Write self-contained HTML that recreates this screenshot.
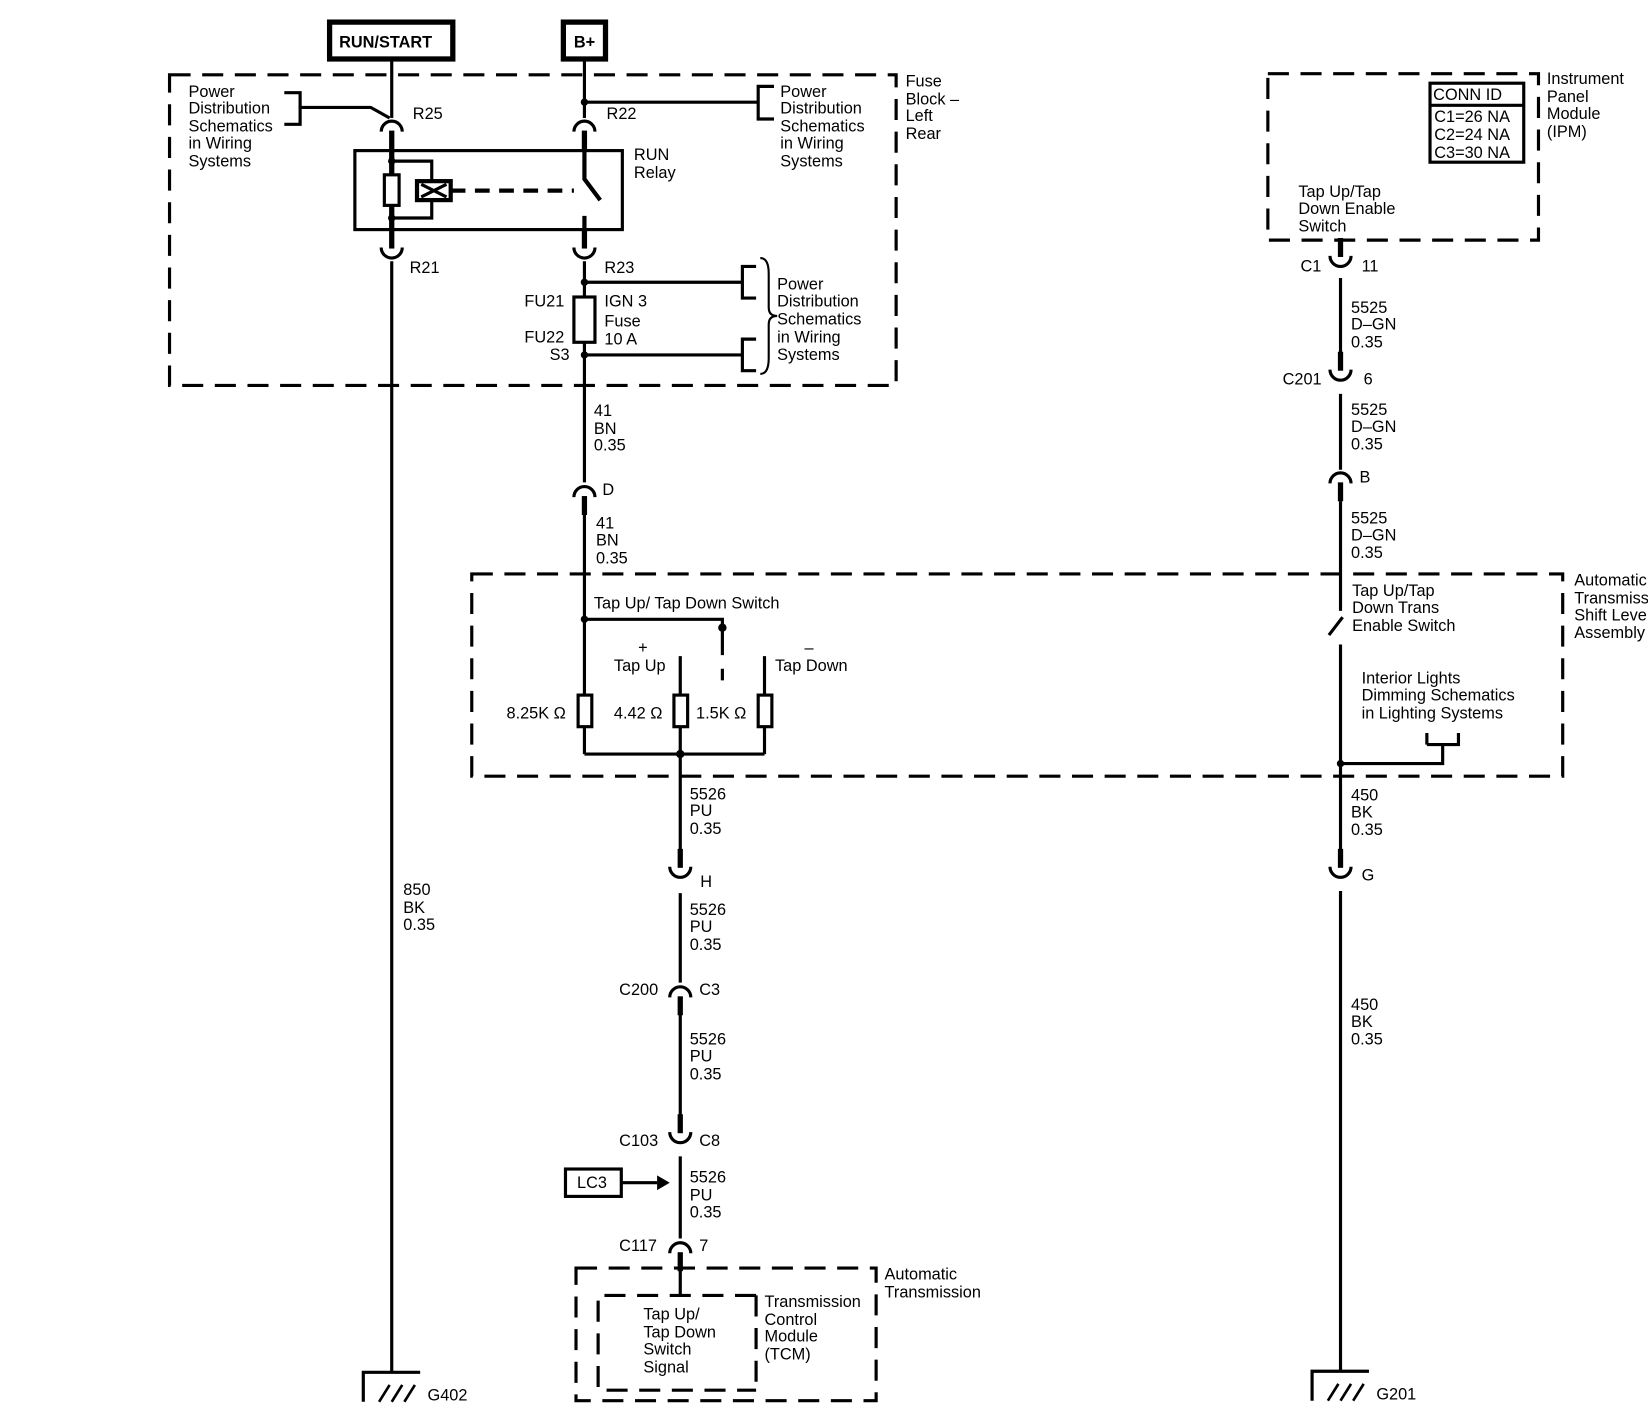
<!DOCTYPE html>
<html><head><meta charset="utf-8"><style>html,body{margin:0;padding:0;background:#fff}svg{display:block}text{font-family:"Liberation Sans",sans-serif;font-size:15.5px;fill:#000}</style></head>
<body>
<svg width="1648" height="1426" viewBox="0 0 1565 1354" preserveAspectRatio="none" xmlns="http://www.w3.org/2000/svg">
<defs>
<g id="cdn"><path d="M-10 7 A10 10 0 0 1 10 7" fill="none" stroke="#000" stroke-width="3"/><rect x="-2.5" y="6" width="5" height="18" fill="#000"/></g>
<g id="cup"><path d="M-10 -7 A10 10 0 0 0 10 -7" fill="none" stroke="#000" stroke-width="3"/><rect x="-2.5" y="-24" width="5" height="18" fill="#000"/></g>
<g id="gnd"><path d="M-27 28 V0 H27" fill="none" stroke="#000" stroke-width="3"/><path d="M-12 28 L-2 12 M0 28 L10 12 M12 28 L22 12" stroke="#000" stroke-width="2.5"/></g>
</defs>
<g fill="none" stroke="#000" stroke-width="3">
<!-- dashed boxes -->
<g stroke-dasharray="20 11">
<rect x="161" y="71" width="690" height="295"/>
<rect x="1204" y="70" width="257" height="158"/>
<rect x="448" y="545" width="1036" height="192"/>
<rect x="547" y="1204" width="285" height="126"/>
<path d="M718 1230 H568 V1320 H718 M718 1230 V1320"/>
</g>
<rect x="313" y="21" width="117" height="35" stroke-width="5"/>
<rect x="535" y="21" width="40" height="35" stroke-width="5"/>
<rect x="1358" y="79" width="89" height="75" stroke-width="3"/>
<line x1="1358" y1="100" x2="1447" y2="100"/>
<!-- left wire -->
<line x1="372" y1="58" x2="372" y2="112"/>
<path d="M285 102 H352 L370 112"/>
<path d="M270 88 H285 V118 H270"/>
<rect x="337" y="143" width="254" height="75"/>
<line x1="372" y1="142" x2="372" y2="218" stroke-width="5"/>
<rect x="365" y="166" width="14" height="29" fill="#fff"/>
<path d="M372 153 H410 V172 M372 207 H410 V190"/>
<rect x="396" y="172" width="32" height="18" stroke-width="4"/>
<path d="M400 175 L424 187 M400 187 L424 175" stroke-width="3"/>
<line x1="428" y1="181" x2="545" y2="181" stroke-dasharray="14 9" stroke-width="4"/>
<line x1="372" y1="248" x2="372" y2="1303"/>
<!-- B+ wire -->
<line x1="555" y1="58" x2="555" y2="112"/>
<path d="M555 97 H720 M735 82 H720 V113 H735"/>
<path d="M555 142 V170 L570 190 M555 205 V218" stroke-width="4"/>
<line x1="555" y1="248" x2="555" y2="458"/>
<path d="M555 268 H705 M718 253 H705 V283 H718"/>
<path d="M555 337 H705 M718 322 H705 V352 H718"/>
<path d="M722 245 Q730 245 730 260 V292 Q730 300 738 300 Q730 300 730 308 V340 Q730 355 722 355" stroke-width="2"/>
<rect x="545" y="282" width="20" height="43" fill="#fff" stroke-width="3"/>
<line x1="555" y1="489" x2="555" y2="716"/>
<path d="M555 588 H686 V622 M686 635 V646" />
<rect x="549" y="660" width="13" height="30" fill="#fff"/>
<path d="M646 623 V716 M726 623 V716 M555 716 H726"/>
<rect x="640" y="660" width="13" height="30" fill="#fff"/>
<rect x="720" y="660" width="13" height="30" fill="#fff"/>
<line x1="646" y1="716" x2="646" y2="814"/>
<line x1="646" y1="848" x2="646" y2="933"/>
<line x1="646" y1="963" x2="646" y2="1066"/>
<line x1="646" y1="1098" x2="646" y2="1176"/>
<line x1="646" y1="1206" x2="646" y2="1230"/>
<!-- LC3 -->
<rect x="537" y="1110" width="53" height="26" stroke-width="3"/>
<line x1="590" y1="1123" x2="624" y2="1123"/>
<!-- right wire -->
<line x1="1273" y1="228" x2="1273" y2="232"/>
<line x1="1273" y1="264" x2="1273" y2="342"/>
<line x1="1273" y1="374" x2="1273" y2="446"/>
<line x1="1273" y1="476" x2="1273" y2="580"/>
<path d="M1262 603 L1275 586"/>
<line x1="1273" y1="612" x2="1273" y2="814"/>
<line x1="1273" y1="846" x2="1273" y2="1303"/>
<path d="M1273 725 H1370 V707 M1355 707 H1385 V696 M1355 707 V696"/>
</g>
<path d="M624 1116 L636 1123 L624 1130 Z" fill="#000"/>
<g fill="#000">
<circle cx="372" cy="153" r="3.5"/><circle cx="372" cy="207" r="3.5"/><circle cx="555" cy="97" r="3.5"/>
<circle cx="555" cy="268" r="3.5"/><circle cx="555" cy="337" r="3.5"/><circle cx="555" cy="588" r="3.5"/>
<circle cx="686" cy="596" r="4"/><circle cx="646" cy="716" r="4"/><circle cx="1273" cy="725" r="3.5"/>
</g>
<use href="#cdn" x="372" y="118"/><use href="#cdn" x="555" y="118"/>
<use href="#cup" x="372" y="242"/><use href="#cup" x="555" y="242"/>
<use href="#cdn" x="555" y="465"/>
<use href="#cup" x="646" y="830"/><use href="#cdn" x="646" y="940"/>
<use href="#cup" x="646" y="1082"/><use href="#cdn" x="646" y="1183"/>
<use href="#cup" x="1273" y="250"/><use href="#cup" x="1273" y="358"/>
<use href="#cdn" x="1273" y="452"/><use href="#cup" x="1273" y="830"/>
<use href="#gnd" x="372" y="1303"/><use href="#gnd" x="1273" y="1302"/>
<g>
<text x="322" y="45" font-weight="bold">RUN/START</text>
<text x="545" y="45" font-weight="bold">B+</text>
<text x="179" y="92">Power</text><text x="179" y="108">Distribution</text><text x="179" y="125">Schematics</text><text x="179" y="141">in Wiring</text><text x="179" y="158">Systems</text>
<text x="741" y="92">Power</text><text x="741" y="108">Distribution</text><text x="741" y="125">Schematics</text><text x="741" y="141">in Wiring</text><text x="741" y="158">Systems</text>
<text x="860" y="82">Fuse</text><text x="860" y="99">Block –</text><text x="860" y="115">Left</text><text x="860" y="132">Rear</text>
<text x="392" y="113">R25</text><text x="576" y="113">R22</text>
<text x="602" y="152">RUN</text><text x="602" y="169">Relay</text>
<text x="389" y="259">R21</text><text x="574" y="259">R23</text>
<text x="498" y="291">FU21</text><text x="498" y="325">FU22</text><text x="522" y="342">S3</text>
<text x="574" y="291">IGN 3</text><text x="574" y="310">Fuse</text><text x="574" y="327">10 A</text>
<text x="738" y="275">Power</text><text x="738" y="291">Distribution</text><text x="738" y="308">Schematics</text><text x="738" y="325">in Wiring</text><text x="738" y="342">Systems</text>
<text x="564" y="395">41</text><text x="564" y="412">BN</text><text x="564" y="428">0.35</text>
<text x="572" y="470">D</text>
<text x="566" y="502">41</text><text x="566" y="518">BN</text><text x="566" y="535">0.35</text>
<text x="564" y="578">Tap Up/ Tap Down Switch</text>
<text x="606" y="620">+</text><text x="583" y="637">Tap Up</text>
<text x="764" y="620">–</text><text x="736" y="637">Tap Down</text>
<text x="481" y="682">8.25K Ω</text><text x="583" y="682">4.42 Ω</text><text x="661" y="682">1.5K Ω</text>
<text x="655" y="759">5526</text><text x="655" y="775">PU</text><text x="655" y="792">0.35</text>
<text x="665" y="842">H</text>
<text x="655" y="869">5526</text><text x="655" y="885">PU</text><text x="655" y="902">0.35</text>
<text x="588" y="945">C200</text><text x="664" y="945">C3</text>
<text x="655" y="992">5526</text><text x="655" y="1008">PU</text><text x="655" y="1025">0.35</text>
<text x="588" y="1088">C103</text><text x="664" y="1088">C8</text>
<text x="548" y="1128">LC3</text>
<text x="655" y="1123">5526</text><text x="655" y="1140">PU</text><text x="655" y="1156">0.35</text>
<text x="588" y="1188">C117</text><text x="664" y="1188">7</text>
<text x="840" y="1215">Automatic</text><text x="840" y="1232">Transmission</text>
<text x="611" y="1253">Tap Up/</text><text x="611" y="1270">Tap Down</text><text x="611" y="1286">Switch</text><text x="611" y="1303">Signal</text>
<text x="726" y="1241">Transmission</text><text x="726" y="1258">Control</text><text x="726" y="1274">Module</text><text x="726" y="1291">(TCM)</text>
<text x="383" y="850">850</text><text x="383" y="867">BK</text><text x="383" y="883">0.35</text>
<text x="406" y="1330">G402</text>
<text x="1361" y="95">CONN ID</text>
<text x="1362" y="116">C1=26 NA</text><text x="1362" y="133">C2=24 NA</text><text x="1362" y="150">C3=30 NA</text>
<text x="1469" y="80">Instrument</text><text x="1469" y="97">Panel</text><text x="1469" y="113">Module</text><text x="1469" y="130">(IPM)</text>
<text x="1233" y="187">Tap Up/Tap</text><text x="1233" y="203">Down Enable</text><text x="1233" y="220">Switch</text>
<text x="1235" y="258">C1</text><text x="1293" y="258">11</text>
<text x="1283" y="297">5525</text><text x="1283" y="313">D–GN</text><text x="1283" y="330">0.35</text>
<text x="1218" y="365">C201</text><text x="1295" y="365">6</text>
<text x="1283" y="394">5525</text><text x="1283" y="410">D–GN</text><text x="1283" y="427">0.35</text>
<text x="1291" y="458">B</text>
<text x="1283" y="497">5525</text><text x="1283" y="513">D–GN</text><text x="1283" y="530">0.35</text>
<text x="1284" y="566">Tap Up/Tap</text><text x="1284" y="582">Down Trans</text><text x="1284" y="599">Enable Switch</text>
<text x="1293" y="649">Interior Lights</text><text x="1293" y="665">Dimming Schematics</text><text x="1293" y="682">in Lighting Systems</text>
<text x="1495" y="556">Automatic</text><text x="1495" y="573">Transmission</text><text x="1495" y="589">Shift Lever</text><text x="1495" y="606">Assembly</text>
<text x="1283" y="760">450</text><text x="1283" y="776">BK</text><text x="1283" y="793">0.35</text>
<text x="1293" y="836">G</text>
<text x="1283" y="959">450</text><text x="1283" y="975">BK</text><text x="1283" y="992">0.35</text>
<text x="1307" y="1329">G201</text>
</g>
</svg>
</body></html>
